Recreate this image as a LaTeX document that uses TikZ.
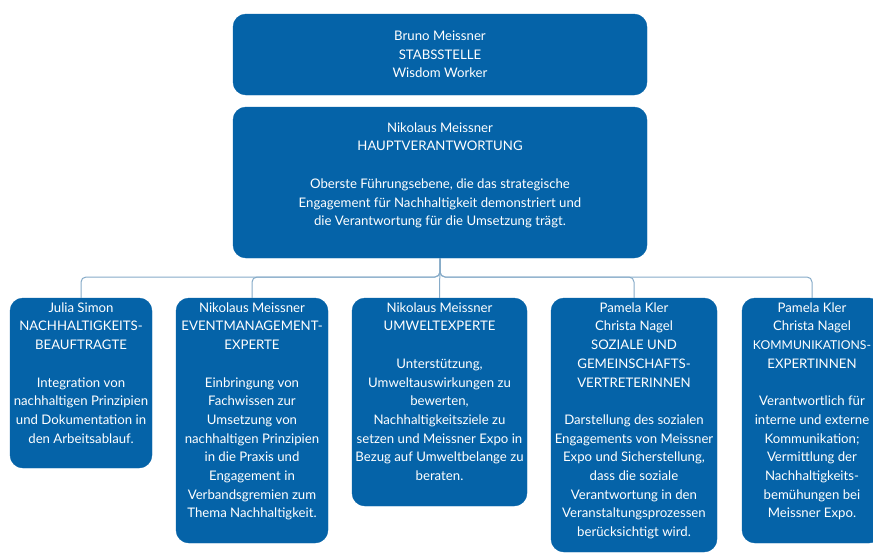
\documentclass[tikz,border=0pt]{standalone}
\usepackage{fontspec}
\setmainfont{Lato}
\definecolor{boxblue}{HTML}{0563A8}
\definecolor{connblue}{HTML}{86ABC8}
\tikzset{
  box/.style={draw=boxblue, fill=boxblue, rounded corners=13pt, inner sep=0pt},
  txt/.style={text=white, align=center, inner sep=0pt, font=\fontsize{13.2}{18.7}\selectfont},
  conn/.style={draw=connblue, line width=1pt, rounded corners=5pt},
}
\begin{document}
\begin{tikzpicture}[x=1pt, y=-1pt]
\useasboundingbox (0,0) rectangle (873,554);
% boxes
\node[box, minimum width=414pt, minimum height=81pt] (top) at (440,54.5) {};
\node[box, minimum width=414pt, minimum height=151pt] (main) at (440,182.5) {};
\node[box, minimum width=142pt, minimum height=170pt] (b1) at (81,383) {};
\node[box, minimum width=152pt, minimum height=245pt] (b2) at (252,420.5) {};
\node[box, minimum width=175pt, minimum height=208pt] (b3) at (439.5,402) {};
\node[box, minimum width=166pt, minimum height=254pt] (b4) at (634,425) {};
\node[box, minimum width=140pt, minimum height=245pt] (b5) at (812,420.5) {};
% texts
\node[txt] (ttop) at (top.center) {Bruno Meissner\\STABSSTELLE\\Wisdom Worker};
\node[txt, anchor=north] (tmain) at ([yshift=-15.5pt]main.north) {Nikolaus Meissner\\HAUPTVERANTWORTUNG\\[18.7pt]Oberste Führungsebene, die das strategische\\Engagement für Nachhaltigkeit demonstriert und\\die Verantwortung für die Umsetzung trägt.};
\node[txt, anchor=north] (t1) at ([yshift=-4.5pt]b1.north) {Julia Simon\\NACHHALTIGKEITS-\\BEAUFTRAGTE\\[18.7pt]Integration von\\nachhaltigen Prinzipien\\und Dokumentation in\\den Arbeitsablauf.};
\node[txt, anchor=north] (t2) at ([yshift=-4.5pt]b2.north) {Nikolaus Meissner\\EVENTMANAGEMENT-\\EXPERTE\\[18.7pt]Einbringung von\\Fachwissen zur\\Umsetzung von\\nachhaltigen Prinzipien\\in die Praxis und\\Engagement in\\Verbandsgremien zum\\Thema Nachhaltigkeit.};
\node[txt, anchor=north] (t3) at ([yshift=-4.5pt]b3.north) {Nikolaus Meissner\\UMWELTEXPERTE\\[18.7pt]Unterstützung,\\Umweltauswirkungen zu\\bewerten,\\Nachhaltigkeitsziele zu\\setzen und Meissner Expo in\\Bezug auf Umweltbelange zu\\beraten.};
\node[txt, anchor=north] (t4) at ([yshift=-4.5pt]b4.north) {Pamela Kler\\Christa Nagel\\SOZIALE UND\\GEMEINSCHAFTS-\\VERTRETERINNEN\\[18.7pt]Darstellung des sozialen\\Engagements von Meissner\\Expo und Sicherstellung,\\dass die soziale\\Verantwortung in den\\Veranstaltungsprozessen\\berücksichtigt wird.};
\node[txt, anchor=north] (t5) at ([yshift=-4.5pt]b5.north) {Pamela Kler\\Christa Nagel\\{\fontsize{12.2}{18.7}\selectfont KOMMUNIKATIONS-}\\EXPERTINNEN\\[18.7pt]Verantwortlich für\\interne und externe\\Kommunikation;\\Vermittlung der\\Nachhaltigkeits-\\bemühungen bei\\Meissner Expo.};
% connectors
\coordinate (bus) at (440,277);
\draw[conn] (main.south) -- (bus) -| (b1.north);
\draw[conn] (main.south) -- (bus) -| (b2.north);
\draw[conn] (main.south) -- (b3.north);
\draw[conn] (main.south) -- (bus) -| (b4.north);
\draw[conn] (main.south) -- (bus) -| (b5.north);
\end{tikzpicture}
\end{document}
